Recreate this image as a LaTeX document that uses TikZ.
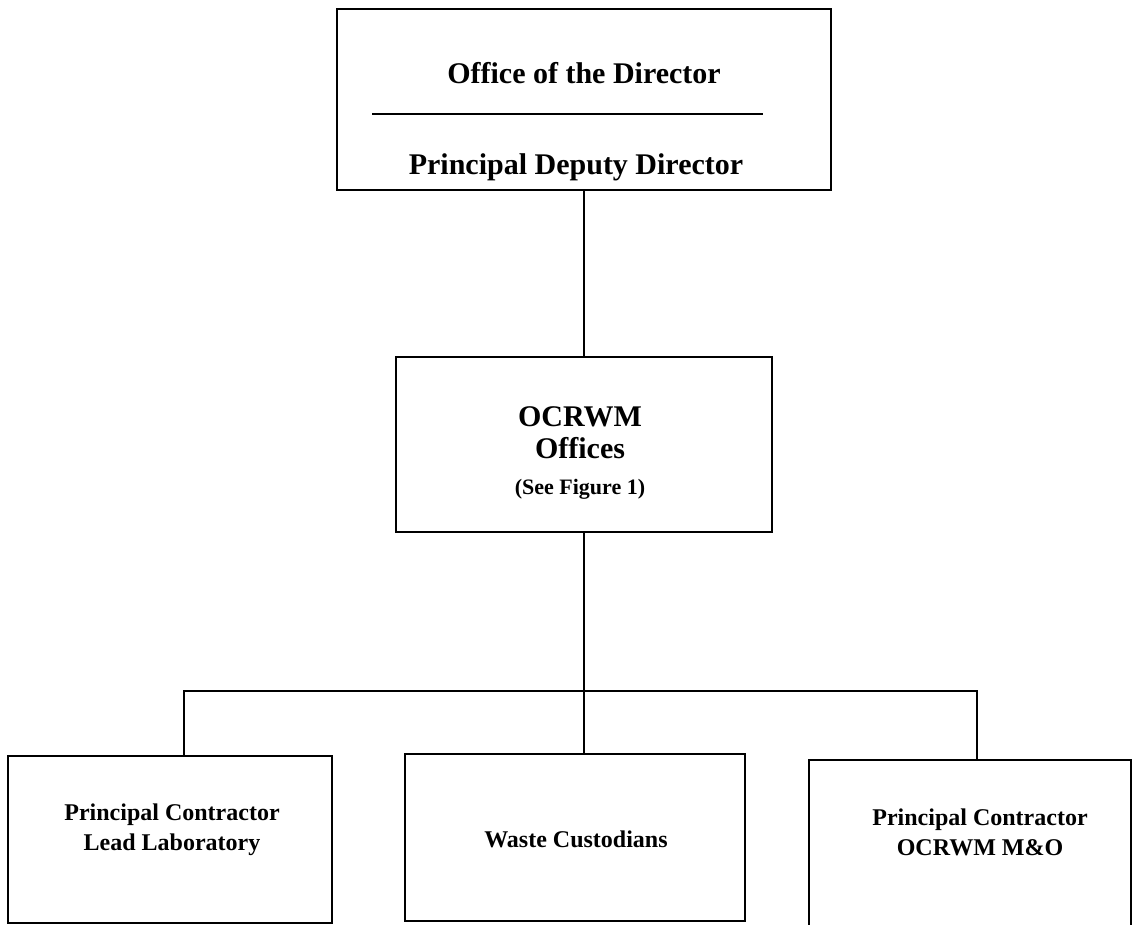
\documentclass[tikz,border=0pt]{standalone}
\usepackage{fontspec}
\setmainfont{Liberation Serif}
\begin{document}
\begin{tikzpicture}[x=1pt,y=-1pt,
  box/.style={draw, line width=2.3pt, rectangle, inner sep=0pt},
  big/.style={font=\bfseries\fontsize{30}{34}\selectfont, align=center, inner sep=0pt},
  note/.style={font=\bfseries\fontsize{22}{26}\selectfont, align=center, inner sep=0pt},
  small/.style={font=\bfseries\fontsize{24}{30}\selectfont, align=center, inner sep=0pt},
  conn/.style={line width=2.3pt}]
\useasboundingbox (0,0) rectangle (1132,924);
% top box
\node[box, minimum width=494pt, minimum height=181pt] (top) at (584,99.5) {};
\node[big, anchor=base] (dir) at (584,83) {Office of the Director};
\node[big, anchor=base] (pdd) at (576,174) {Principal Deputy Director};
\coordinate (divl) at (372,114);
\coordinate (divr) at (763,114);
\draw[conn] (divl) -- (divr);
% middle box
\node[box, minimum width=376pt, minimum height=175pt] (mid) at (584,444.5) {};
\node[big, anchor=base] (ocr) at (580,426) {OCRWM};
\node[big, anchor=base] (off) at (580,458) {Offices};
\node[note, anchor=base] (see) at (580,494) {(See Figure 1)};
% bottom boxes
\node[box, minimum width=324pt, minimum height=167pt] (L) at (170,839.5) {};
\node[small, anchor=base] (Lt) at (172,850) {Principal Contractor\\Lead Laboratory};
\node[box, minimum width=340pt, minimum height=167pt] (M) at (575,837.5) {};
\node[small, anchor=base] (Mt) at (576,847) {Waste Custodians};
\node[box, minimum width=322pt, minimum height=166pt] (R) at (970,843) {};
\node[small, anchor=base] (Rt) at (980,855) {Principal Contractor\\OCRWM M\&O};
% connectors
\coordinate (hl) at (184,691);
\coordinate (hr) at (977,691);
\draw[conn] (top.south) -- (mid.north);
\draw[conn] (mid.south) -- (mid.south |- M.north);
\draw[conn] (L.north -| hl) -- (hl) -- (hr) -- (R.north -| hr);
\end{tikzpicture}
\end{document}
